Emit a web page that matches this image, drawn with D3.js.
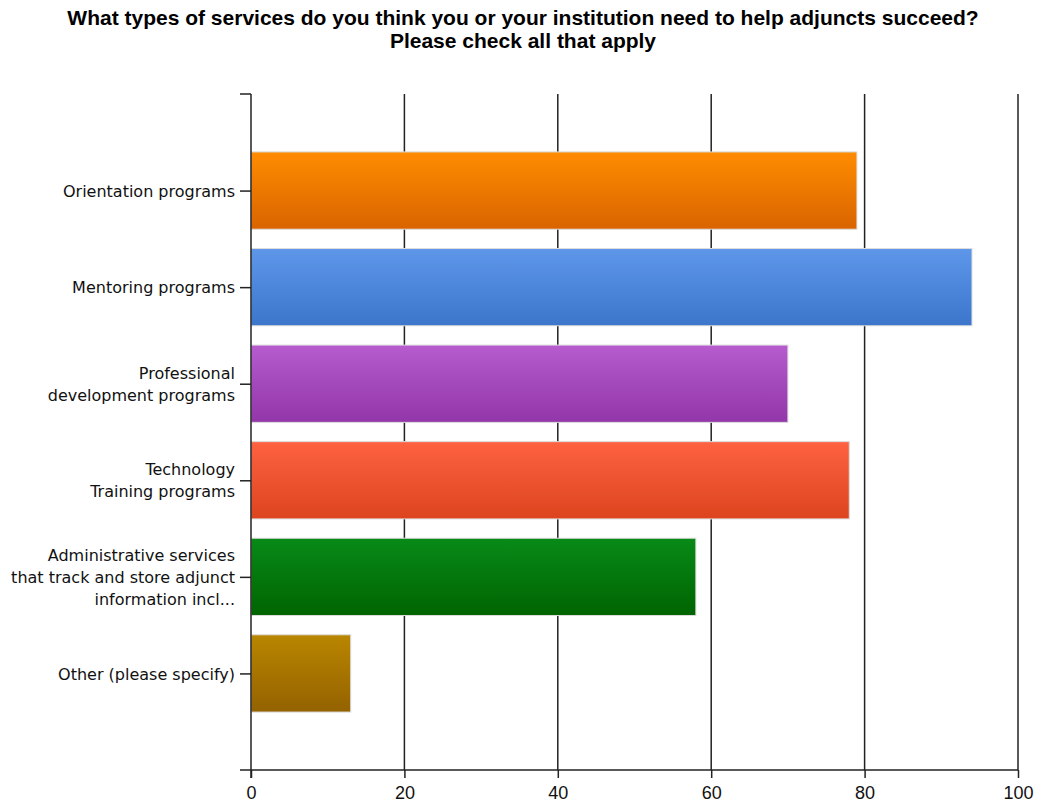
<!DOCTYPE html>
<html>
<head>
<meta charset="utf-8">
<script src="https://cdn.jsdelivr.net/npm/d3@7"></script>
<style>
  html, body { margin: 0; padding: 0; background: #fff; }
  svg { display: block; }
</style>
</head>
<body>
<svg id="chart" width="1041" height="803"></svg>
<script>
// Survey responses (count of respondents per service)
const categories = [
  ["Orientation programs"],
  ["Mentoring programs"],
  ["Professional", "development programs"],
  ["Technology", "Training programs"],
  ["Administrative services", "that track and store adjunct", "information incl..."],
  ["Other (please specify)"]
];
const values = [79, 94, 70, 78, 58, 13];
const barColors = [
  ["#ff8c00", "#d96400"],
  ["#5e97ea", "#3b76cb"],
  ["#b65ccf", "#9236a9"],
  ["#fe6241", "#dc441e"],
  ["#088a18", "#006400"],
  ["#b98600", "#946200"]
];
const xTicks = [0, 20, 40, 60, 80, 100];
const titleLines = [
  "What types of services do you think you or your institution need to help adjuncts succeed?",
  "Please check all that apply"
];

const svg = d3.select("#chart");
const plotLeft = 251, plotRight = 1018, plotTop = 94, plotBottom = 770;

const x = d3.scaleLinear().domain([0, 100]).range([plotLeft, plotRight]);
const y = d3.scalePoint().domain(d3.range(categories.length)).range([plotTop, plotBottom]).padding(1);
const barH = y.step() * 0.8;

// Title
svg.append("g").selectAll("text").data(titleLines).join("text")
  .attr("x", 523).attr("y", (d, i) => 25 + i * 23)
  .attr("text-anchor", "middle")
  .attr("font-family", "'Liberation Sans', Arial, sans-serif")
  .attr("font-weight", "bold").attr("font-size", 21)
  .attr("fill", "#000")
  .text(d => d);

// Gradients
const defs = svg.append("defs");
barColors.forEach((c, i) => {
  const g = defs.append("linearGradient").attr("id", "g" + i)
    .attr("x1", 0).attr("y1", 0).attr("x2", 0).attr("y2", 1);
  g.append("stop").attr("offset", "0%").attr("stop-color", c[0]);
  g.append("stop").attr("offset", "100%").attr("stop-color", c[1]);
});

// Vertical gridlines
svg.append("g").selectAll("line").data(xTicks.slice(1)).join("line")
  .attr("x1", d => x(d)).attr("x2", d => x(d))
  .attr("y1", plotTop).attr("y2", plotBottom)
  .attr("stroke", "#222").attr("stroke-width", 1.5);

// Bars
svg.append("g").selectAll("rect").data(values).join("rect")
  .attr("x", x(0))
  .attr("y", (d, i) => y(i) - barH / 2)
  .attr("width", d => x(d) - x(0))
  .attr("height", barH)
  .attr("fill", (d, i) => `url(#g${i})`)
  .attr("stroke", "#dcdcdc").attr("stroke-width", 1);

// X axis
const xAxis = svg.append("g").attr("transform", `translate(0,${plotBottom})`)
  .call(d3.axisBottom(x).tickValues(xTicks).tickSize(8).tickPadding(8).tickSizeOuter(0));
xAxis.select(".domain").remove();
xAxis.append("line").attr("x1", 240).attr("x2", plotRight).attr("stroke", "#222").attr("stroke-width", 1.5);
xAxis.selectAll(".tick line").attr("stroke", "#222").attr("stroke-width", 1.5);
xAxis.selectAll(".tick text")
  .attr("font-family", "'Liberation Sans', Arial, sans-serif")
  .attr("font-size", 18).attr("fill", "#111");

// Y axis
const yAxis = svg.append("g").attr("transform", `translate(${plotLeft},0)`)
  .call(d3.axisLeft(y).tickSize(11).tickSizeOuter(0).tickFormat(() => ""));
yAxis.select(".domain").remove();
yAxis.append("line").attr("y1", plotTop).attr("y2", plotBottom + 8).attr("stroke", "#222").attr("stroke-width", 1.5);
yAxis.append("line").attr("x1", -11).attr("x2", 0).attr("y1", plotTop).attr("y2", plotTop).attr("stroke", "#222").attr("stroke-width", 1.5);
yAxis.selectAll(".tick line").attr("stroke", "#222").attr("stroke-width", 1.5);
yAxis.selectAll(".tick").each(function(d) {
  const lines = categories[d];
  const t = d3.select(this).append("text")
    .attr("x", -16).attr("text-anchor", "end")
    .attr("font-family", "'DejaVu Sans', Tahoma, sans-serif")
    .attr("font-size", 16).attr("fill", "#111");
  const lh = 22;
  const off = -(lines.length - 1) * lh / 2;
  lines.forEach((s, k) => {
    t.append("tspan").attr("x", -16).attr("y", off + k * lh).attr("dy", "0.35em").text(s);
  });
});
</script>
</body>
</html>
